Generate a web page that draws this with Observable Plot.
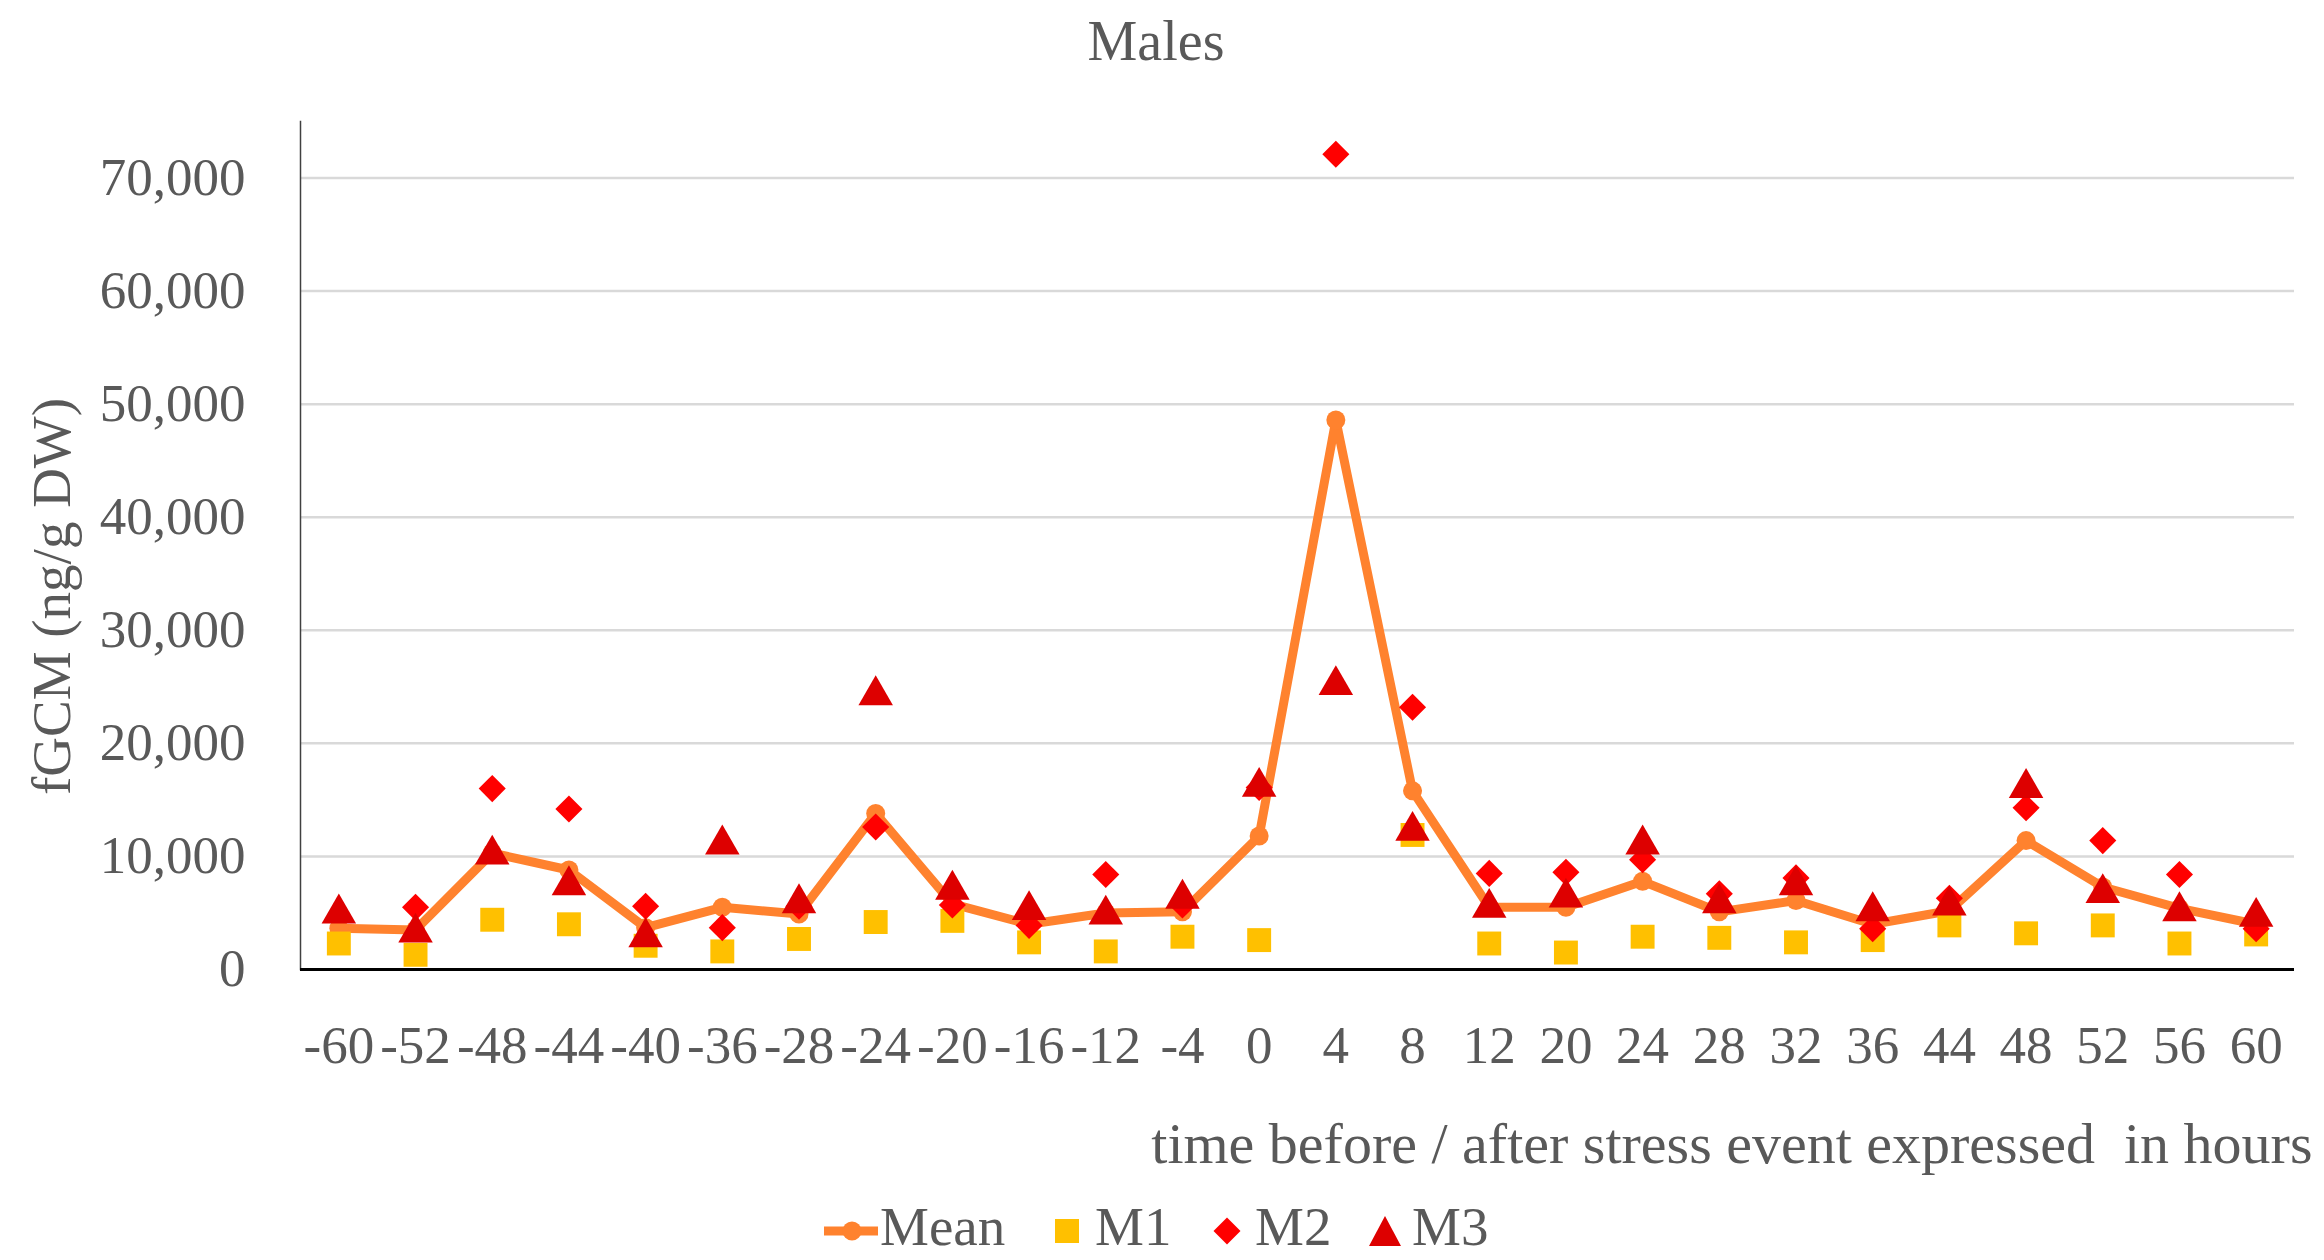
<!DOCTYPE html>
<html>
<head>
<meta charset="utf-8">
<script src="https://cdn.jsdelivr.net/npm/d3@7"></script>
<script src="https://cdn.jsdelivr.net/npm/@observablehq/plot@0.6"></script>
<style>
  html, body { margin: 0; padding: 0; background: white; }
  #wrap { position: relative; width: 2324px; height: 1260px; overflow: hidden; background: white;
          font-family: 'Liberation Serif', serif; color: #595959; }
  #title { position: absolute; left: 0; width: 2312px; top: 13px; text-align: center;
           font-size: 56px; line-height: 56px; }
  #chart { position: absolute; left: 0; top: 90px; }
  .lg-text { position: absolute; top: 1199px; font-size: 55px; line-height: 55px; white-space: nowrap; }
  .lg-icon { position: absolute; top: 1200px; }
</style>
</head>
<body>
<div id="wrap">
  <div id="title">Males</div>
  <div id="chart"></div>
  <svg class="lg-icon" style="left:820px" width="64" height="62"><line x1="4" y1="31" x2="58" y2="31" stroke="#ff822e" stroke-width="9"/><circle cx="32" cy="31" r="9.5" fill="#ff822e"/></svg>
  <span class="lg-text" style="left:880px">Mean</span>
  <svg class="lg-icon" style="left:1050px" width="34" height="62"><rect x="5" y="19" width="24" height="24" fill="#ffc000"/></svg>
  <span class="lg-text" style="left:1095px">M1</span>
  <svg class="lg-icon" style="left:1210px" width="34" height="62"><path d="M17,17.5L30.5,31L17,44.5L3.5,31Z" fill="#ff0000"/></svg>
  <span class="lg-text" style="left:1255px">M2</span>
  <svg class="lg-icon" style="left:1366px" width="38" height="62"><path d="M19,16L35,46L3,46Z" fill="#dd0000"/></svg>
  <span class="lg-text" style="left:1412px">M3</span>
</div>
<script>
// time relative to stress event (hours)
const hours = [-60,-52,-48,-44,-40,-36,-28,-24,-20,-16,-12,-4,0,4,8,12,20,24,28,32,36,44,48,52,56,60];
// fGCM (ng/g DW)
const meanValues = [3650,3500,10300,8800,3700,5500,4900,13800,5800,4000,5000,5100,11800,48600,15800,5500,5500,7800,5100,6100,4000,5200,11400,7300,5400,4000];
const m1Values = [2300,1300,4400,4000,2100,1600,2700,4200,4300,2400,1600,2900,2600,null,11900,2300,1500,2900,2800,2400,2600,3900,3200,3900,2300,3100];
const m2Values = [null,5500,16000,14200,5600,3700,5600,12600,5700,3900,8400,5700,16100,72100,23200,8500,8600,9700,6700,8100,3600,6300,14300,11400,8400,3600];
const m3Values = [5400,3700,10600,7900,3300,11500,6300,24700,7500,5700,5300,6700,16600,25600,12700,5900,6800,11500,6300,7900,5600,6100,16500,7200,5600,5100];
const yTicks = [0,10000,20000,30000,40000,50000,60000,70000];
const xTitle = "time before / after stress event expressed  in hours";
const yTitle = "fGCM (ng/g DW)";

const rows = hours.map((h, i) => ({h, mean: meanValues[i], m1: m1Values[i], m2: m2Values[i], m3: m3Values[i]}));

const chart = Plot.plot({
  width: 2324,
  height: 1100,
  marginTop: 31,
  marginBottom: 221,
  marginLeft: 300,
  marginRight: 30,
  style: {fontFamily: "'Liberation Serif', serif", fontSize: "53px", color: "#595959", background: "white"},
  x: {type: "point", domain: hours, padding: 0.5, align: 0.5, round: false},
  y: {domain: [0, 75000]},
  marks: [
    Plot.gridY(yTicks.filter(d => d > 0), {stroke: "#d9d9d9", strokeOpacity: 1, strokeWidth: 2.5}),
    Plot.frame({anchor: "left", stroke: "#404040", strokeWidth: 1.5}),
    Plot.ruleY([0], {stroke: "#000", strokeWidth: 3}),
    Plot.line(rows, {x: "h", y: "mean", stroke: "#ff822e", strokeWidth: 9, strokeLinejoin: "round"}),
    Plot.dot(rows, {x: "h", y: "mean", r: 9.5, fill: "#ff822e"}),
    Plot.dot(rows, {x: "h", y: "m1", symbol: "square", r: 13.5, fill: "#ffc000"}),
    Plot.dot(rows, {x: "h", y: "m2", symbol: "diamond2", r: 12.2, fill: "#ff0000"}),
    Plot.dot(rows, {x: "h", y: "m3", symbol: "triangle", r: 12.8, fill: "#dd0000", dy: 5}),
    Plot.axisX({tickSize: 0, tickPadding: 56, tickFormat: d => String(d), fontSize: 53, label: null}),
    Plot.axisY(yTicks, {tickSize: 0, tickPadding: 55, tickFormat: d3.format(","), fontSize: 53, label: null}),
    Plot.text([xTitle], {frameAnchor: "bottom-right", textAnchor: "end", lineAnchor: "middle", dx: 18, dy: 175, fontSize: 58, fill: "#595959"}),
    Plot.text([yTitle], {frameAnchor: "left", rotate: -90, textAnchor: "middle", lineAnchor: "middle", dx: -248, dy: 51, fontSize: 55, fill: "#595959"})
  ]
});
document.getElementById("chart").appendChild(chart);
</script>
</body>
</html>
